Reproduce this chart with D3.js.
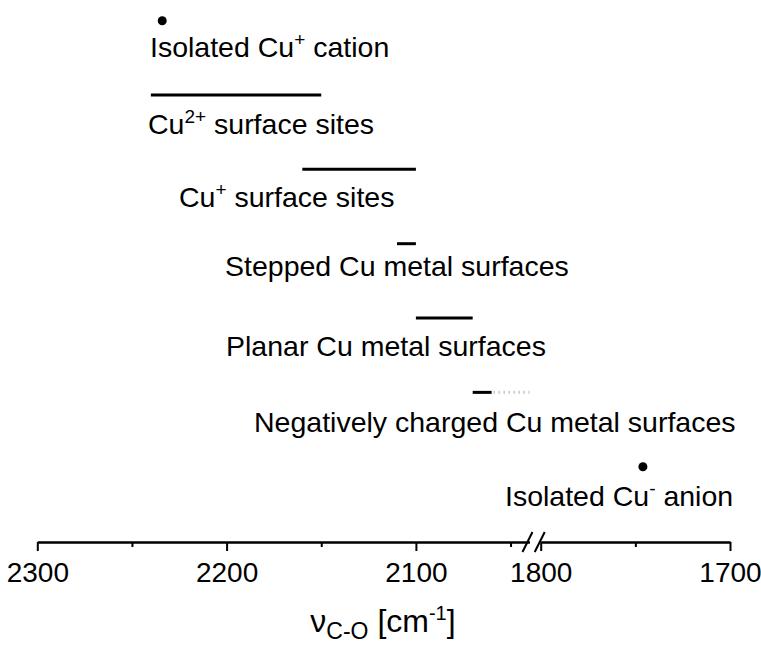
<!DOCTYPE html>
<html>
<head>
<meta charset="utf-8">
<script src="https://cdn.jsdelivr.net/npm/d3@7"></script>
<style>
  body { margin: 0; background: #fff; }
  text { font-family: "Liberation Sans", Arial, sans-serif; fill: #000; }
</style>
</head>
<body>
<div id="chart"></div>
<script>
// site names, with the superscript part kept apart
let labelHead = ["Isolated Cu", "Cu", "Cu", "Stepped Cu metal surfaces", "Planar Cu metal surfaces", "Negatively charged Cu metal surfaces", "Isolated Cu"]
let labelSup = ["+", "2+", "+", "", "", "", "-"]
let labelTail = [" cation", " surface sites", " surface sites", "", "", "", " anion"]

// CO stretching ranges in cm-1 (high end, low end); equal ends = single value
let waveHigh = [2234, 2240, 2160, 2110, 2100, 2070, 1746]
let waveLow = [2234, 2150, 2100, 2100, 2070, 2060, 1746]
// uncertain extension, drawn dotted
let waveDotted = [null, null, null, null, null, 2040, null]

let leftTicks = [2300, 2200, 2100]
let leftMinor = [2250, 2150, 2050]
let rightTicks = [1800, 1700]
let rightMinor = [1750]

// layout
let width = 761, height = 645
let axisY = 542
let labelX = [150, 148, 179, 225, 226, 254, 505]
let labelDy = [36, 39, 38, 32, 38, 40, 39]
let fontSize = 28.5

let svg = d3.select("#chart").append("svg")
    .attr("width", width)
    .attr("height", height)

// broken axis: two scales with the same cm-1 per pixel
let xL = d3.scaleLinear().domain([2300, 2040]).range([37.3, 37.3 + 260 * 1.893])
let xR = d3.scaleLinear().domain([1800, 1700]).range([540.7, 730])
let xS = function (v) { return v >= 2000 ? xL(v) : xR(v); }

let yS = d3.scalePoint()
    .domain(d3.range(labelHead.length))
    .range([20.7, 466.7])

let rows = svg.selectAll("g.row")
    .data(d3.range(labelHead.length))
    .enter()
    .append("g")
    .attr("class", "row")

// ranges as bars
rows.filter(function (i) { return waveHigh[i] !== waveLow[i]; })
    .append("line")
    .attr("x1", function (i) { return xS(waveHigh[i]); })
    .attr("x2", function (i) { return xS(waveLow[i]); })
    .attr("y1", function (i) { return yS(i); })
    .attr("y2", function (i) { return yS(i); })
    .attr("stroke", "#000")
    .attr("stroke-width", 3)

rows.filter(function (i) { return waveDotted[i] !== null; })
    .append("line")
    .attr("x1", function (i) { return xS(waveLow[i]) + 2; })
    .attr("x2", function (i) { return xS(waveDotted[i]); })
    .attr("y1", function (i) { return yS(i); })
    .attr("y2", function (i) { return yS(i); })
    .attr("stroke", "#aaa")
    .attr("stroke-width", 3)
    .attr("stroke-dasharray", "1,4")

// single values as dots
rows.filter(function (i) { return waveHigh[i] === waveLow[i]; })
    .append("circle")
    .attr("cx", function (i) { return xS(waveHigh[i]); })
    .attr("cy", function (i) { return yS(i); })
    .attr("r", 4.5)
    .attr("fill", "#000")

// labels
let lab = rows.append("text")
    .attr("x", function (i) { return labelX[i]; })
    .attr("y", function (i) { return yS(i) + labelDy[i]; })
    .style("font-size", fontSize + "px")
lab.append("tspan").text(function (i) { return labelHead[i]; })
lab.filter(function (i) { return labelSup[i] !== ""; })
    .append("tspan")
    .attr("dy", -11)
    .style("font-size", "19px")
    .text(function (i) { return labelSup[i]; })
lab.filter(function (i) { return labelSup[i] !== ""; })
    .append("tspan")
    .attr("dy", 11)
    .text(function (i) { return labelTail[i]; })

// axes
function styleAxis(g) {
    g.select(".domain").attr("stroke-width", 2)
    g.selectAll(".tick line").attr("stroke-width", 2)
    g.selectAll(".tick text")
        .style("font-family", "'Liberation Sans', Arial, sans-serif")
        .style("font-size", "28px")
        .attr("dy", "1.0em")
}

svg.append("g").attr("transform", "translate(0," + axisY + ")")
    .call(d3.axisBottom(xL).tickValues(leftTicks).tickSize(9).tickSizeOuter(0).tickFormat(d3.format("d")))
    .call(styleAxis)
svg.append("g").attr("transform", "translate(0," + axisY + ")")
    .call(d3.axisBottom(xL).tickValues(leftMinor).tickSize(5).tickSizeOuter(0).tickFormat(""))
    .call(styleAxis)

svg.append("g").attr("transform", "translate(0," + axisY + ")")
    .call(d3.axisBottom(xR).tickValues(rightTicks).tickSize(9).tickSizeOuter(0).tickFormat(d3.format("d")))
    .call(styleAxis)
svg.append("g").attr("transform", "translate(0," + axisY + ")")
    .call(d3.axisBottom(xR).tickValues(rightMinor).tickSize(5).tickSizeOuter(0).tickFormat(""))
    .call(styleAxis)

svg.selectAll(".domain").attr("fill", "none").attr("stroke", "#000")

// break marks
let bx = [xL.range()[1] - 2, xR.range()[0] - 1]
bx.forEach(function (x) {
    svg.append("line")
        .attr("x1", x - 5).attr("y1", axisY + 10)
        .attr("x2", x + 5).attr("y2", axisY - 10)
        .attr("stroke", "#000")
        .attr("stroke-width", 2)
})

// axis title
let title = svg.append("text")
    .attr("x", 383)
    .attr("y", 632)
    .attr("text-anchor", "middle")
    .style("font-size", "32px")
title.append("tspan").text("\u03bd")
title.append("tspan").attr("dy", 7).style("font-size", "23px").text("C-O")
title.append("tspan").attr("dy", -7).text(" [cm")
title.append("tspan").attr("dy", -12).style("font-size", "20px").text("-1")
title.append("tspan").attr("dy", 12).text("]")
</script>
</body>
</html>
